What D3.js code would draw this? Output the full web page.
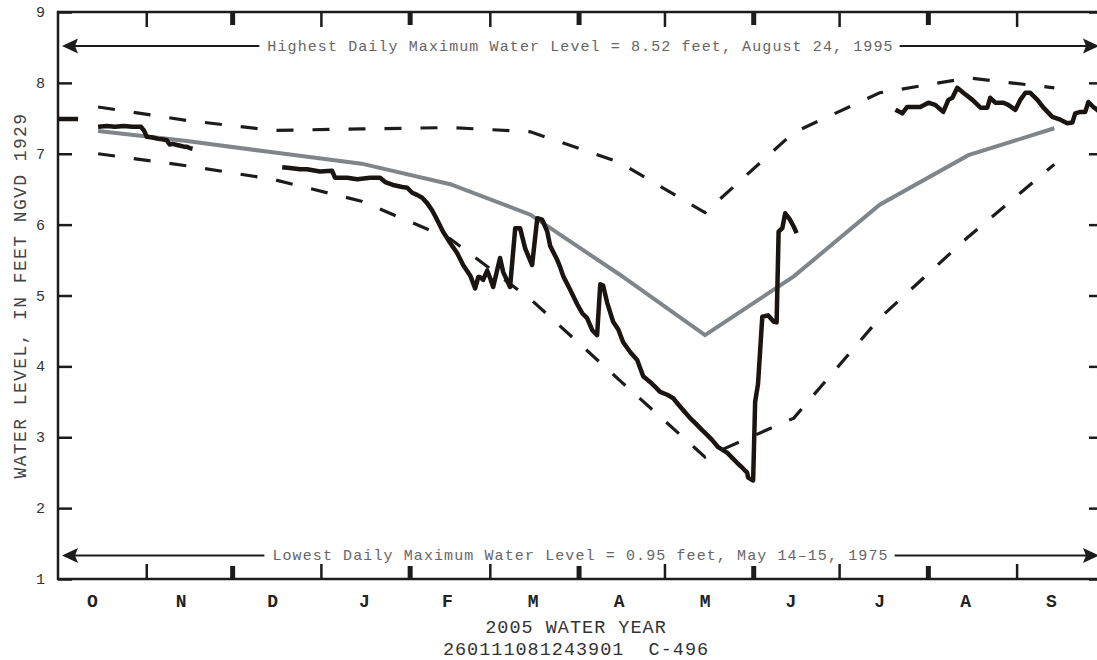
<!DOCTYPE html>
<html><head><meta charset="utf-8">
<script src="https://cdn.jsdelivr.net/npm/d3@7"></script>
<style>html,body{margin:0;padding:0;background:#fff;overflow:hidden}</style>
</head><body><svg id="chart" width="1097" height="660"></svg>
<script>
// ---------- data ----------
const waterYearStart = new Date(2004, 9, 1);
const waterYearEnd = new Date(2005, 9, 1);
const monthLetters = ["O","N","D","J","F","M","A","M","J","J","A","S"];
const monthLabelDays = [12, 43, 75, 107, 136, 166, 196, 226, 256, 287, 317, 347];
const yTickValues = [1, 2, 3, 4, 5, 6, 7, 8, 9];

// monthly statistics at mid-month (days since Oct 1)
const statDays   = [14, 45, 75, 106, 137, 165, 196, 226, 257, 287, 318, 348];
const meanLevels = [7.32, 7.18, 7.02, 6.86, 6.57, 6.14, 5.30, 4.44, 5.27, 6.28, 6.98, 7.36];
const maxLevels  = [7.66, 7.47, 7.33, 7.35, 7.37, 7.31, 6.88, 6.17, 7.30, 7.86, 8.07, 7.93];
const minLevels  = [7.00, 6.83, 6.64, 6.33, 5.80, 4.95, 3.81, 2.72, 3.27, 4.68, 5.83, 6.85];

// daily maximum water level, 2005 water year (null = missing record)
const dailyDays = [
  0, 7, null,
  14, 17, 20, 23, 26, 29, 30, 31, 33, 35, 37, 38, 39, 40, 42, 44, 45, 46, 47, null,
  78.3, 81, 84.6, 87, 91.5, 95.7, 96.8, 101, 104.5, 109, 112.5, 114.3, 117, 120.2, 122, 123.7, 125.4, 127.2, 129,
  130.7, 132.4, 134.5, 137, 139.4, 141.5, 144, 145.7, 146.8, 147.4, 148.5, 149.9, 151, 152, 153.4, 154.4, 155.5,
  157.9, 159.7, 161.4, 163.2, 165.6, 167.4, 169.1, 170.9, 171.9, 174.4, 175.4, 176.5, 178.9, 181.3, 183.1, 184.8,
  186.6, 188.3, 189.4, 190.4, 191.8, 193.9, 195.7, 197.4, 199.9, 202.3, 204.4, 206.8, 208.6, 210.3, 212.8, 214.9,
  216.3, 218.4, 220.8, 222.6, 225, 226.8, 228.5, 230.6, 233.8, 235.5, 237.2, 239, 240.7, 241.1, 242.8,
  243.5, 244.5, 246, 248, 250, 251, 251.7, 253, 254, 255.5, 257, 258, null,
  292.5, 294.9, 296.6, 301.2, 304, 306.4, 309.2, 311, 312.4, 314.1, 316.2, 319.4, 322.2, 324.6, 325.6, 327.4,
  330.2, 331.9, 334.4, 336.1, 337.9, 339.6, 342.1, 344.2, 347.3, 350.1, 352.5, 354.3, 355.3, 357.1, 358.8,
  359.9, 361.6, 363, 364.7
];
const dailyLevels = [
  7.49, 7.49, null,
  7.38, 7.39, 7.38, 7.39, 7.38, 7.38, 7.33, 7.24, 7.23, 7.21, 7.20, 7.19, 7.13, 7.14, 7.12, 7.10, 7.10, 7.08, 7.07, null,
  6.81, 6.80, 6.78, 6.78, 6.75, 6.76, 6.66, 6.66, 6.64, 6.66, 6.66, 6.60, 6.56, 6.53, 6.52, 6.45, 6.42, 6.38, 6.30,
  6.20, 6.07, 5.90, 5.74, 5.60, 5.43, 5.28, 5.10, 5.26, 5.26, 5.22, 5.35, 5.24, 5.12, 5.36, 5.53, 5.33,
  5.12, 5.95, 5.95, 5.66, 5.43, 6.09, 6.07, 5.90, 5.70, 5.50, 5.40, 5.27, 5.08, 4.88, 4.75, 4.68,
  4.51, 4.44, 5.16, 5.14, 4.90, 4.63, 4.52, 4.34, 4.20, 4.09, 3.86, 3.78, 3.71, 3.64, 3.60, 3.55,
  3.48, 3.38, 3.27, 3.20, 3.10, 3.03, 2.96, 2.86, 2.78, 2.71, 2.64, 2.57, 2.50, 2.43, 2.39,
  3.50, 3.75, 4.70, 4.72, 4.63, 4.62, 5.90, 5.95, 6.16, 6.08, 5.97, 5.88, null,
  7.62, 7.57, 7.66, 7.66, 7.72, 7.69, 7.59, 7.76, 7.79, 7.93, 7.86, 7.76, 7.65, 7.65, 7.79, 7.72,
  7.72, 7.69, 7.62, 7.76, 7.86, 7.86, 7.76, 7.65, 7.52, 7.48, 7.43, 7.44, 7.57, 7.59, 7.59,
  7.73, 7.66, 7.62, 7.55
];

const highestLabel = "Highest Daily Maximum Water Level = 8.52 feet, August 24, 1995";
const highestLevel = 8.52;
const lowestLabel = "Lowest Daily Maximum Water Level = 0.95 feet, May 14\u201315, 1975";
const yAxisTitle = "WATER LEVEL, IN FEET NGVD 1929";
const xAxisTitle = "2005 WATER YEAR";
const stationLabel = "260111081243901  C-496";

// ---------- drawing ----------
const svg = d3.select("#chart");
const M = {left: 58, top: 12, right: 1103, bottom: 579};
const FONT = "'Courier New','Liberation Mono',monospace";
const dayToDate = d => d3.timeDay.offset(waterYearStart, 0).getTime() + d * 86400000;

const x = d3.scaleTime().domain([waterYearStart, waterYearEnd]).range([M.left, M.right]);
const xd = d => x(new Date(dayToDate(d)));
const y = d3.scaleLinear().domain([1, 9]).range([M.bottom, M.top]);

// frame
svg.append("path")
  .attr("d", `M${M.right},${M.top}H${M.left}V${M.bottom}H${M.right}V${M.top}`)
  .attr("fill", "none").attr("stroke", "#1c1c1c").attr("stroke-width", 2.5);

// month ticks (top and bottom)
const boundaries = d3.timeMonth.range(d3.timeMonth.offset(waterYearStart, 1), waterYearEnd);
boundaries.forEach((b, i) => {
  const thick = (i + 1) % 2 === 0;
  const w = thick ? 5 : 2.5;
  const L = thick ? 13 : 15;
  svg.append("line").attr("x1", x(b)).attr("x2", x(b)).attr("y1", M.top).attr("y2", M.top + L)
    .attr("stroke", "#1c1c1c").attr("stroke-width", w);
  svg.append("line").attr("x1", x(b)).attr("x2", x(b)).attr("y1", M.bottom).attr("y2", M.bottom - L)
    .attr("stroke", "#1c1c1c").attr("stroke-width", w);
});

// y ticks left and right
const leftAxis = d3.axisLeft(y).tickValues(yTickValues).tickSize(-14).tickPadding(0).tickFormat("");
const gl = svg.append("g").attr("transform", `translate(${M.left},0)`).call(leftAxis);
gl.select(".domain").remove();
gl.selectAll(".tick line").attr("stroke", "#1c1c1c").attr("stroke-width", 2.5);
const rightAxis = d3.axisRight(y).tickValues(yTickValues).tickSize(-14).tickFormat("");
const gr = svg.append("g").attr("transform", `translate(${M.right},0)`).call(rightAxis);
gr.select(".domain").remove();
gr.selectAll(".tick line").attr("stroke", "#1c1c1c").attr("stroke-width", 2.5);

// y tick labels
svg.append("g").selectAll("text").data(yTickValues).join("text")
  .attr("x", 45).attr("y", d => y(d) + 5)
  .attr("text-anchor", "end").attr("font-family", FONT).attr("font-size", 15)
  .attr("fill", "#333").text(d => d);

// month labels
svg.append("g").selectAll("text").data(monthLetters).join("text")
  .attr("x", (d, i) => xd(monthLabelDays[i])).attr("y", 607)
  .attr("text-anchor", "middle").attr("font-family", FONT).attr("font-weight", "bold")
  .attr("font-size", 18).attr("fill", "#222").text(d => d);

// titles
svg.append("text").attr("x", 576).attr("y", 633).attr("text-anchor", "middle")
  .attr("font-family", FONT).attr("font-size", 18.5).attr("letter-spacing", 1)
  .attr("fill", "#333").text(xAxisTitle);
svg.append("text").attr("x", 576).attr("y", 655).attr("text-anchor", "middle")
  .attr("font-family", FONT).attr("font-size", 18.5).attr("letter-spacing", 1).attr("xml:space", "preserve")
  .style("white-space", "pre")
  .attr("fill", "#333").text(stationLabel);
svg.append("text").attr("transform", `translate(26,${(M.top + M.bottom) / 2}) rotate(-90)`)
  .attr("text-anchor", "middle").attr("font-family", FONT).attr("font-size", 18)
  .attr("letter-spacing", 1.4).attr("fill", "#444").text(yAxisTitle);

// record arrows
function recordArrow(yy, label) {
  const cx = (M.left + M.right) / 2;
  const t = svg.append("text").attr("x", cx).attr("y", yy + 4.5).attr("text-anchor", "middle")
    .attr("font-family", FONT).attr("font-size", 15).attr("letter-spacing", 1.1)
    .attr("fill", "#666").text(label);
  const bb = t.node().getBBox();
  const x0 = M.left + 4, x1 = M.right - 4;
  svg.append("line").attr("x1", x0 + 10).attr("x2", bb.x - 8).attr("y1", yy).attr("y2", yy)
    .attr("stroke", "#1c1c1c").attr("stroke-width", 2);
  svg.append("line").attr("x1", bb.x + bb.width + 6).attr("x2", x1 - 10).attr("y1", yy).attr("y2", yy)
    .attr("stroke", "#1c1c1c").attr("stroke-width", 2);
  svg.append("path").attr("d", `M${x0},${yy}L${x0 + 16},${yy - 7.5}L${x0 + 13},${yy}L${x0 + 16},${yy + 7.5}Z`)
    .attr("fill", "#1c1c1c");
  svg.append("path").attr("d", `M${x1},${yy}L${x1 - 16},${yy - 7.5}L${x1 - 13},${yy}L${x1 - 16},${yy + 7.5}Z`)
    .attr("fill", "#1c1c1c");
}
recordArrow(y(highestLevel), highestLabel);
recordArrow(M.bottom - 23.5, lowestLabel);

// envelope lines
const statLine = arr => d3.line().x((d, i) => xd(statDays[i])).y(d => y(d))(arr);
svg.append("path").attr("d", statLine(maxLevels)).attr("fill", "none")
  .attr("stroke", "#1c1c1c").attr("stroke-width", 3.2).attr("stroke-dasharray", "17,19");
svg.append("path").attr("d", statLine(minLevels)).attr("fill", "none")
  .attr("stroke", "#1c1c1c").attr("stroke-width", 3.2).attr("stroke-dasharray", "17,19");
svg.append("path").attr("d", statLine(meanLevels)).attr("fill", "none")
  .attr("stroke", "#7f8589").attr("stroke-width", 4);

// daily line
const daily = dailyDays.map((d, i) => ({d, v: dailyLevels[i]}));
const dl = d3.line().defined(p => p.d != null && p.v != null).x(p => xd(p.d)).y(p => y(p.v));
svg.append("path").attr("d", dl(daily)).attr("fill", "none")
  .attr("stroke", "#1a1512").attr("stroke-width", 4.5).attr("stroke-linejoin", "round");
</script></body></html>
